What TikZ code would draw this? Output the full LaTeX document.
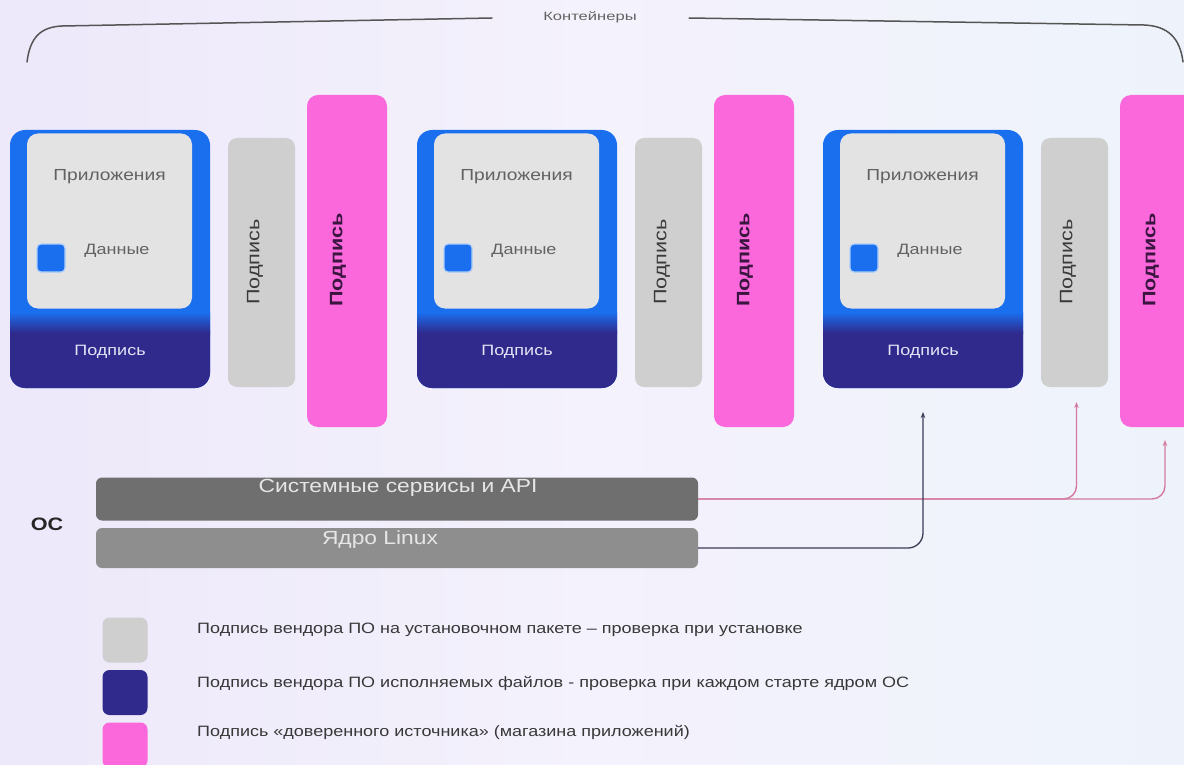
\documentclass[tikz,border=0pt]{standalone}
\usepackage{fontspec}
\setmainfont{Liberation Sans}[FakeStretch=1.2]
\usetikzlibrary{arrows.meta,calc}

\definecolor{bgL}{HTML}{EDE8FA}
\definecolor{bgM}{HTML}{F4F2FC}
\definecolor{bgR}{HTML}{EEF3FB}
\definecolor{cblue}{HTML}{1A6FEF}
\definecolor{navy}{HTML}{2F2A8C}
\definecolor{innergray}{HTML}{E3E3E3}
\definecolor{siggray}{HTML}{CFCFCF}
\definecolor{storepink}{HTML}{FA68DC}
\definecolor{apptext}{HTML}{626262}
\definecolor{navytext}{HTML}{E4E4F6}
\definecolor{bartext}{HTML}{3A3A3A}
\definecolor{pinktext}{HTML}{3A1540}
\definecolor{osdark}{HTML}{6F6F6F}
\definecolor{oslight}{HTML}{8E8E8E}
\definecolor{ostext}{HTML}{E6E6E6}
\definecolor{legtext}{HTML}{383838}
\definecolor{linkpink}{HTML}{D47A9E}
\definecolor{linkdark}{HTML}{3B3B55}
\definecolor{bracecol}{HTML}{555555}

\tikzset{
  tile/.style={inner sep=0pt, outer sep=0pt, rounded corners=10pt},
  boxtext/.style={font=\fontsize{16}{19}\selectfont, text=apptext, inner sep=0pt},
  vlabel/.style={rotate=90, font=\fontsize{18}{21}\selectfont, inner sep=0pt},
  legtxt/.style={anchor=west, font=\fontsize{15}{18}\selectfont, text=legtext, inner sep=0pt},
  ostxt/.style={font=\fontsize{19}{22}\selectfont, text=ostext, inner sep=0pt},
  osbar/.style={tile, rounded corners=6pt, minimum width=602pt},
  pinklink/.style={draw=linkpink, line width=1.4pt, rounded corners=13pt,
    -{Stealth[length=6pt,width=4.5pt]}},
  darklink/.style={draw=linkdark, line width=1.3pt, rounded corners=15pt,
    -{Stealth[length=6pt,width=4.5pt]}},
  bracestroke/.style={draw=bracecol, line width=1.5pt, line cap=round},
}

\begin{document}
\begin{tikzpicture}[x=1pt,y=-1pt]
\useasboundingbox (0,0) rectangle (1184,765);
\clip (0,0) rectangle (1184,765);
\shade[left color=bgL, right color=bgR, middle color=bgM] (0,0) rectangle (1184,765);

% bracket over the containers
\node[font=\fontsize{12}{14}\selectfont, text=apptext, inner sep=0pt] (ttl) at (590,17)
  {\scalebox{1.15}[1]{Контейнеры}};
\coordinate (bl) at (27,62);
\coordinate (br) at (1183,62);
\draw[bracestroke] (bl) .. controls (30,38) and (40,27) .. (62,26) -- (492,18);
\draw[bracestroke] (689,18) -- (1144,25) .. controls (1168,26) and (1180,38) .. (br);

% three containers
\foreach \i/\dx in {1/0,2/407,3/813}{
  % outer shell: blue on top, dark signature band below
  \node[tile, rounded corners=15pt, fill=cblue, minimum width=200, minimum height=258]
    (outer\i) at (110+\dx,259) {};
  \fill[navy, rounded corners=15pt] (10+\dx,316) rectangle (210+\dx,388);
  \shade[top color=cblue, bottom color=navy] (10+\dx,312) rectangle (210+\dx,333);
  \node[tile, rounded corners=11pt, fill=innergray, minimum width=165, minimum height=175]
    (app\i) at (109.5+\dx,221) {};
  \node[boxtext] (apptxt\i) at (109.5+\dx,177) {Приложения};
  \node[tile, rounded corners=4pt, fill=cblue, draw=white!65!cblue, line width=1.2pt,
    minimum size=28] (data\i) at (51+\dx,258) {};
  \node[boxtext, font=\fontsize{15}{18}\selectfont] (datatxt\i) at (117+\dx,251) {Данные};
  \node[boxtext, font=\fontsize{15}{18}\selectfont, text=navytext] (sgn\i) at (110+\dx,352) {Подпись};
  % installer signature bar
  \node[tile, rounded corners=9pt, fill=siggray, minimum width=67, minimum height=249]
    (sig\i) at (261.5+\dx,262.5) {};
  \node[vlabel, text=bartext] (sigtxt\i) at (255+\dx,262) {Подпись};
  % trusted source signature bar
  \node[tile, rounded corners=11pt, fill=storepink, minimum width=80, minimum height=332]
    (store\i) at (347+\dx,261) {};
  \node[vlabel, text=pinktext, font=\bfseries\fontsize{18}{21}\selectfont] (storetxt\i)
    at (338+\dx,260) {Подпись};
}

% operating system layers
\node[font=\bfseries\fontsize{18}{21}\selectfont, text=black!85, inner sep=0pt] (os) at (47,524) {ОС};
\node[osbar, fill=osdark, minimum height=43] (sys) at (397,499) {};
\node[ostxt] (systxt) at (398,488) {Системные сервисы и API};
\node[osbar, fill=oslight, minimum height=40] (ker) at (397,548) {};
\node[ostxt] (kertxt) at (380,540) {Ядро Linux};

% verification links
\draw[pinklink] (sys.east) -| ($(sig3.south)+(2,15)$);
\draw[pinklink] (sys.east) -| ($(store3.south)+(5,13)$);
\draw[darklink] (ker.east) -| ($(outer3.south)+(0,24)$);

% legend
\node[tile, rounded corners=7pt, fill=siggray, minimum size=45] (lg1) at (125,640) {};
\node[tile, rounded corners=7pt, fill=navy, minimum size=45] (lg2) at (125,692.5) {};
\node[tile, rounded corners=7pt, fill=storepink, minimum size=45] (lg3) at (125,745) {};
\node[legtxt] (lt1) at (197,630) {Подпись вендора ПО на установочном пакете – проверка при установке};
\node[legtxt] (lt2) at (197,683) {Подпись вендора ПО исполняемых файлов - проверка при каждом старте ядром ОС};
\node[legtxt] (lt3) at (197,732) {Подпись «доверенного источника» (магазина приложений)};
\end{tikzpicture}
\end{document}
